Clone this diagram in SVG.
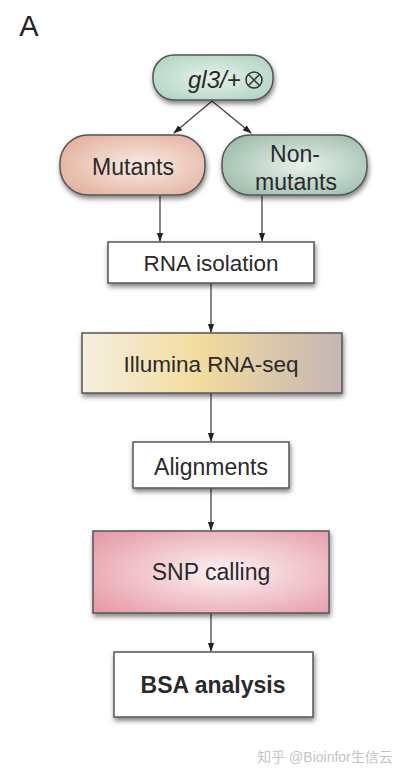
<svg xmlns="http://www.w3.org/2000/svg" width="403" height="776" viewBox="0 0 403 776">
<style>
text{font-family:"Liberation Sans",Arial,sans-serif;fill:#2a2a2a;text-anchor:middle}
.box{stroke:#555;stroke-width:1.5;filter:url(#sh)}
.c{stroke:#444;stroke-width:1.3;fill:none;marker-end:url(#ah)}
</style>
<defs>
<filter id="sh" x="-10%" y="-10%" width="125%" height="140%">
<feDropShadow dx="1" dy="3" stdDeviation="2.5" flood-color="#000" flood-opacity="0.5"/>
</filter>
<marker id="ah" viewBox="0 0 10 10" refX="9" refY="5" markerWidth="7" markerHeight="7" orient="auto-start-reverse">
<path d="M0,1.5 L10,5 L0,8.5 Z" fill="#222"/>
</marker>
<radialGradient id="gTop" cx="0.5" cy="0.5" r="0.7"><stop offset="0" stop-color="#e6f3ec"/><stop offset="1" stop-color="#a9d0bc"/></radialGradient>
<radialGradient id="gMut" cx="0.55" cy="0.5" r="0.7"><stop offset="0" stop-color="#f8ece6"/><stop offset="1" stop-color="#e2aa94"/></radialGradient>
<radialGradient id="gNon" cx="0.55" cy="0.5" r="0.7"><stop offset="0" stop-color="#e9f1ec"/><stop offset="1" stop-color="#94b7a3"/></radialGradient>
<linearGradient id="gIll" x1="0" y1="0" x2="1" y2="0"><stop offset="0" stop-color="#f6efe0"/><stop offset="0.45" stop-color="#f3dc9e"/><stop offset="1" stop-color="#c5b5b5"/></linearGradient>
<radialGradient id="gSnp" cx="0.55" cy="0.5" r="0.7"><stop offset="0" stop-color="#fcf2f3"/><stop offset="1" stop-color="#e69aa7"/></radialGradient>
</defs>
<text x="29" y="36" style="font-size:29px;fill:#222">A</text>
<g id="connectors">
<line class="c" x1="212" y1="101" x2="174" y2="133"/>
<line class="c" x1="212" y1="101" x2="251" y2="133"/>
<line class="c" x1="160" y1="196" x2="160" y2="241"/>
<line class="c" x1="262" y1="196" x2="262" y2="241"/>
<line class="c" x1="211" y1="283" x2="211" y2="332"/>
<line class="c" x1="211" y1="393" x2="211" y2="441"/>
<line class="c" x1="211" y1="488" x2="211" y2="530"/>
<line class="c" x1="211" y1="613" x2="211" y2="651"/>
</g>
<g id="n-gl3">
<rect class="box" x="153" y="55" width="120" height="45" rx="21" fill="url(#gTop)"/>
<text x="188" y="88" style="font-size:24px;font-style:italic;text-anchor:start">gl3/+</text>
<circle cx="254" cy="80" r="8" fill="none" stroke="#333" stroke-width="1.5"/>
<path d="M248.5,74.5 L259.5,85.5 M259.5,74.5 L248.5,85.5" stroke="#333" stroke-width="1.5"/>
</g>
<g id="n-mutants">
<rect class="box" x="60" y="135" width="145" height="60" rx="28" fill="url(#gMut)"/>
<text x="133" y="175" style="font-size:23px">Mutants</text>
</g>
<g id="n-nonmutants">
<rect class="box" x="222" y="135" width="145" height="60" rx="28" fill="url(#gNon)"/>
<text x="295" y="162" style="font-size:23px">Non-</text>
<text x="296" y="190" style="font-size:23px">mutants</text>
</g>
<g id="n-rna">
<rect class="box" x="108" y="242" width="206" height="41" fill="#fff"/>
<text x="211" y="271" style="font-size:22.5px">RNA isolation</text>
</g>
<g id="n-illumina">
<rect class="box" x="82" y="333" width="260" height="60" fill="url(#gIll)"/>
<text x="211" y="372" style="font-size:22.5px">Illumina RNA-seq</text>
</g>
<g id="n-align">
<rect class="box" x="133" y="442" width="156" height="46" fill="#fff"/>
<text x="211" y="475" style="font-size:23px">Alignments</text>
</g>
<g id="n-snp">
<rect class="box" x="93" y="531" width="236" height="82" fill="url(#gSnp)"/>
<text x="211" y="580" style="font-size:23px">SNP calling</text>
</g>
<g id="n-bsa">
<rect class="box" x="114" y="652" width="199" height="65" fill="#fff"/>
<text x="213" y="693" style="font-size:23px;font-weight:bold">BSA analysis</text>
</g>
<text x="325" y="762" style="font-size:14px;fill:#c4c4c4;font-family:'Liberation Sans','Noto Sans CJK SC',sans-serif">知乎 @Bioinfor生信云</text>
</svg>
